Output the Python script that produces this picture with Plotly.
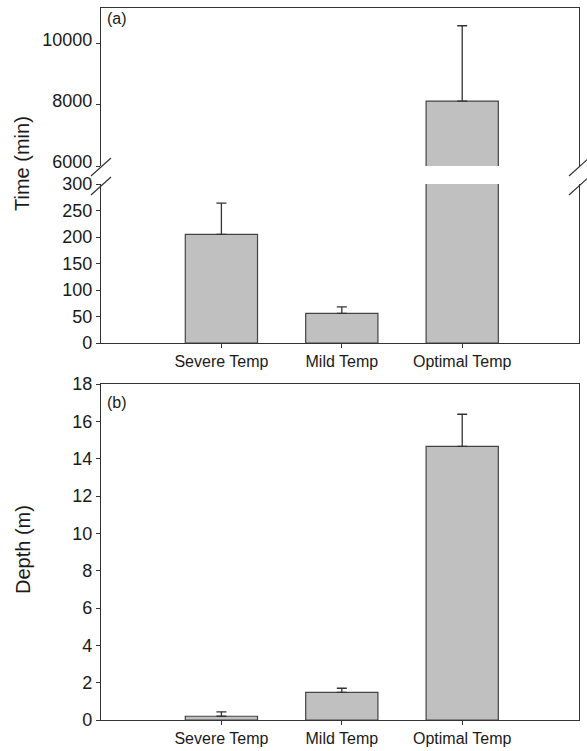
import plotly.graph_objects as go

# ---- data -----------------------------------------------------------------
categories = ["Severe Temp", "Mild Temp", "Optimal Temp"]

time_mean = [205, 56, 8120]          # minutes
time_err = [59, 12, 2460]            # upper error (min)

depth_mean = [0.2, 1.48, 14.66]      # metres
depth_err = [0.23, 0.22, 1.72]       # upper error (m)

time_hi_ticks = [6000, 8000, 10000]
time_lo_ticks = [0, 50, 100, 150, 200, 250, 300]
depth_ticks = [0, 2, 4, 6, 8, 10, 12, 14, 16, 18]

# ---- geometry helpers -----------------------------------------------------
W, H = 587, 751
ML, MR, MT, MB = 101, 8, 8, 31
PW, PH = W - ML - MR, H - MT - MB


def px_x(px):
    return (px - ML) / PW


def px_y(py):
    return (H - MB - py) / PH


FONT = "Liberation Sans, Arial, sans-serif"
TXT = "#1a1a1a"
LINE = "#333333"
BAR_FILL = "#c0c0c0"
BAR_EDGE = "#444444"


def bar(y, err, xa, ya):
    return go.Bar(
        x=categories, y=y, xaxis=xa, yaxis=ya, width=0.6,
        marker=dict(color=BAR_FILL, line=dict(color=BAR_EDGE, width=1.2)),
        error_y=dict(type="data", array=err, arrayminus=[0] * len(err),
                     symmetric=False, color=LINE, thickness=1.3, width=5),
        showlegend=False, hoverinfo="x+y",
    )


fig = go.Figure()
# panel (a): upper segment of broken axis, lower segment, then panel (b)
fig.add_trace(bar(time_mean, time_err, "x2", "y"))
fig.add_trace(bar(time_mean, time_err, "x", "y2"))
fig.add_trace(bar(depth_mean, depth_err, "x3", "y3"))

xrange = [-1, 2.97]
common_x = dict(type="category", range=xrange, showline=True, linecolor=LINE,
                linewidth=1.3, showgrid=False, zeroline=False, automargin=False,
                ticks="outside", ticklen=4, tickcolor=LINE, tickwidth=1,
                tickfont=dict(family=FONT, size=16, color=TXT))
common_y = dict(showline=True, mirror=True, linecolor=LINE, linewidth=1.3,
                showgrid=False, zeroline=False, ticks="outside", ticklen=4,
                tickcolor=LINE, tickwidth=1, automargin=False,
                tickfont=dict(family=FONT, size=18, color=TXT))

y_hi_dom = [px_y(166), 1.0]
y_lo_dom = [px_y(343), px_y(184)]
y_b_dom = [0.0, px_y(384)]

fig.update_layout(
    width=W, height=H,
    margin=dict(l=ML, r=MR, t=MT, b=MB, autoexpand=False),
    paper_bgcolor="white", plot_bgcolor="white",
    bargap=0.4,
    xaxis=dict(domain=[0, 1], anchor="y2", **common_x),
    xaxis2=dict(domain=[0, 1], anchor="y", side="top", matches="x",
                type="category", range=xrange, showline=True, linecolor=LINE,
                linewidth=1.3, showticklabels=False, ticks="",
                showgrid=False, zeroline=False, automargin=False),
    xaxis3=dict(domain=[0, 1], anchor="y3", mirror=True, **common_x),
    # upper-segment labels lifted slightly so they clear the break
    yaxis=dict(domain=y_hi_dom, anchor="x2", range=[6000, 11160],
               tickvals=time_hi_ticks, ticklabelshift=-4,
               ticktext=[str(v) for v in time_hi_ticks], **common_y),
    yaxis2=dict(domain=y_lo_dom, anchor="x", range=[0, 300],
                tickvals=time_lo_ticks, **common_y),
    yaxis3=dict(domain=y_b_dom, anchor="x3", range=[0, 18],
                tickvals=depth_ticks, **common_y),
)

# axis-break marks on both vertical axes of panel (a)
for cx in (px_x(ML), px_x(W - MR)):
    for cy in (167, 186):
        fig.add_shape(type="line", xref="paper", yref="paper",
                      x0=cx - 10 / PW, y0=px_y(cy + 9),
                      x1=cx + 10 / PW, y1=px_y(cy - 9),
                      line=dict(color=LINE, width=1.2))

# panel letters and axis titles
annos = [
    dict(text="(a)", x=px_x(105), y=px_y(8), xanchor="left", yanchor="top",
         font=dict(family=FONT, size=16, color=TXT)),
    dict(text="(b)", x=px_x(105), y=px_y(392), xanchor="left", yanchor="top",
         font=dict(family=FONT, size=16, color=TXT)),
    dict(text="Time (min)", x=px_x(22), y=px_y(164), textangle=-90,
         xanchor="center", yanchor="middle",
         font=dict(family=FONT, size=20, color=TXT)),
    dict(text="Depth (m)", x=px_x(23), y=px_y(550), textangle=-90,
         xanchor="center", yanchor="middle",
         font=dict(family=FONT, size=20, color=TXT)),
]
for a in annos:
    fig.add_annotation(xref="paper", yref="paper", showarrow=False, **a)

fig.write_html("out.html")
